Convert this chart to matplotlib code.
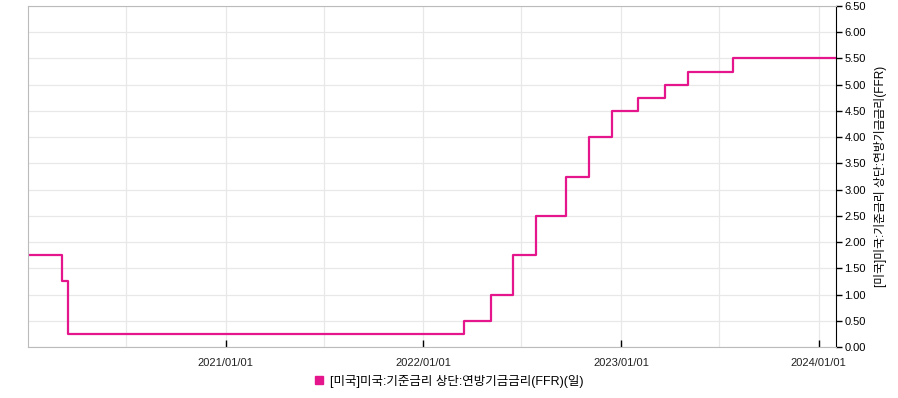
import matplotlib
matplotlib.use('Agg')
import matplotlib.pyplot as plt
import matplotlib.dates as mdates
import pandas as pd

# 연방기금금리 상단 변경일 / 수준
dates = ['2020-01-02', '2020-03-04', '2020-03-16', '2022-03-17', '2022-05-05',
         '2022-06-16', '2022-07-28', '2022-09-22', '2022-11-03', '2022-12-15',
         '2023-02-02', '2023-03-23', '2023-05-04', '2023-07-27', '2024-02-02']
rates = [1.75, 1.25, 0.25, 0.50, 1.00,
         1.75, 2.50, 3.25, 4.00, 4.50,
         4.75, 5.00, 5.25, 5.50, 5.50]
yticks = [0.0, 0.5, 1.0, 1.5, 2.0, 2.5, 3.0, 3.5, 4.0, 4.5, 5.0, 5.5, 6.0, 6.5]
xticks = ['2021-01-01', '2022-01-01', '2023-01-01', '2024-01-01']
xgrid = ['2020-07-01', '2021-01-01', '2021-07-01', '2022-01-01', '2022-07-01',
         '2023-01-01', '2023-07-01', '2024-01-01']

label_y = '[미국]미국:기준금리 상단:연방기금금리(FFR)'
label_legend = '[미국]미국:기준금리 상단:연방기금금리(FFR)(일)'

plt.rcParams['font.family'] = ['Liberation Sans', 'Noto Sans CJK KR', 'DejaVu Sans']
cor = '#E5168C'

fig = plt.figure(figsize=(8.98, 3.98), dpi=100)
ax = fig.add_axes([0.0312, 0.128, 0.8998, 0.857])

d = pd.to_datetime(dates)
ax.step(d, rates, where='post', color=cor, linewidth=1.6, label=label_legend)

# grid
for g in pd.to_datetime(xgrid):
    ax.axvline(g, color='#e8e8e8', linewidth=0.9, zorder=0)
for y in yticks:
    ax.axhline(y, color='#e8e8e8', linewidth=0.9, zorder=0)

ax.set_xlim(pd.Timestamp('2020-01-02'), pd.Timestamp('2024-02-02'))
ax.set_ylim(0, 6.5)

ax.set_xticks(pd.to_datetime(xticks))
ax.xaxis.set_major_formatter(mdates.DateFormatter('%Y/%m/%d'))
ax.tick_params(axis='x', direction='in', length=5, width=1, colors='black',
               labelsize=8, pad=8)
for t in ax.get_xticklabels():
    t.set_color('#222222')

ax.yaxis.tick_right()
ax.yaxis.set_label_position('right')
ax.set_yticks(yticks)
ax.set_yticklabels(['%.2f' % v for v in yticks])
ax.tick_params(axis='y', direction='out', length=4, width=1, labelsize=8, pad=2)
ax.set_ylabel(label_y, fontsize=8.5, labelpad=6)

for s in ['left', 'top', 'bottom']:
    ax.spines[s].set_color('#bbbbbb')
ax.spines['right'].set_color('black')

ax.legend(loc='center', bbox_to_anchor=(0.521, -0.1), frameon=False,
          fontsize=9, handlelength=0.7, handleheight=0.7, handletextpad=0.5,
          handles=[plt.Line2D([], [], marker='s', linestyle='', color=cor,
                              markersize=6)],
          labels=[label_legend])

fig.savefig('out.png', dpi=100)
